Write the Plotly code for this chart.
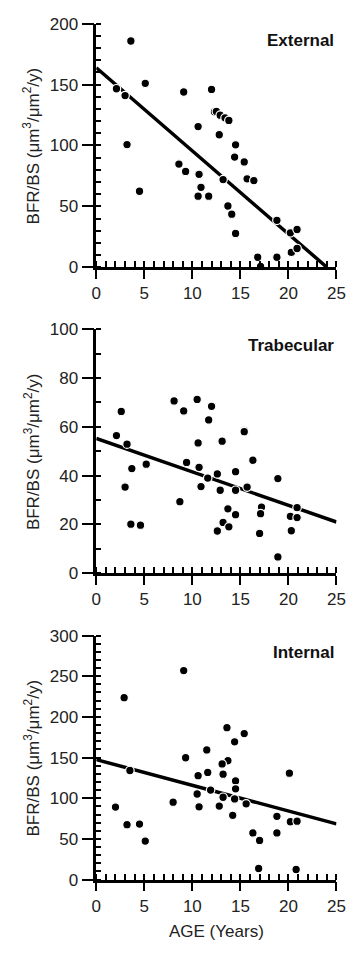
import plotly.graph_objects as go

# ---------------- data ----------------
ext_age = [3.6, 2.1, 3.0, 5.1, 9.1, 12.0, 12.3, 10.6, 3.2, 12.5, 12.9, 13.4, 13.8,
           12.8, 14.5, 14.4, 15.4, 13.2, 15.7, 16.4, 13.7, 14.1, 14.5, 18.8, 20.2,
           20.9, 18.8, 20.3, 20.9, 16.8, 17.1, 4.5, 8.6, 9.3, 10.7, 10.9, 10.6, 11.7]
ext_bfr = [185.8, 146.6, 141, 151, 143.9, 146, 127.6, 115.5, 100.7, 128, 124.9, 122.7, 120.6,
           108.8, 100.5, 90.5, 86.5, 72, 72.6, 71.2, 50.3, 43.6, 27.8, 38.5, 28.3,
           31, 8.2, 12.2, 15.4, 8.2, 0.7, 62.4, 84.7, 78.7, 76.3, 65.6, 58.4, 58.4]
ext_fit_age = [0, 24]
ext_fit_bfr = [163.8, 0]

tra_age = [2.6, 8.1, 9.1, 10.5, 12.0, 11.7, 15.4, 2.1, 3.2, 3.7, 3.0, 5.2, 3.6, 4.6,
           8.7, 9.4, 10.6, 10.7, 10.9, 11.6, 12.6, 12.9, 13.1, 14.5, 14.5, 15.4, 15.7,
           16.3, 13.7, 13.2, 12.6, 13.8, 14.5, 17.2, 17.1, 17.0, 18.9, 18.9, 20.9,
           20.2, 20.9, 20.3]
tra_bfr = [66.3, 70.6, 66.5, 71.2, 68.4, 62.8, 58.5, 56.4, 52.9, 42.9, 35.3, 44.7, 20.1, 19.7,
           29.3, 45.4, 53.4, 43.4, 35.5, 39, 40.7, 34, 54.1, 41.6, 34, 58, 35.3,
           46.3, 26.4, 20.8, 17.3, 19, 24, 27.1, 24.4, 16.3, 38.8, 6.7, 26.9,
           23.3, 22.8, 17.4]
tra_fit_age = [0, 25]
tra_fit_bfr = [55.2, 21]

int_age = [9.1, 2.9, 13.6, 15.4, 14.4, 11.5, 9.3, 13.7, 13.1, 3.5, 11.6, 13.2, 10.6,
           20.1, 14.5, 14.5, 11.9, 10.5, 13.2, 14.4, 15.6, 8.0, 2.0, 10.7, 12.8, 14.2,
           18.8, 20.2, 20.9, 3.2, 4.5, 5.1, 16.3, 17.0, 18.8, 16.9, 20.8]
int_bfr = [257, 223.6, 186.7, 179.5, 169.4, 159.4, 149.8, 146.1, 142.2, 134.1, 131.7, 129.6, 127.7,
           130.8, 121.2, 111.6, 110, 105.2, 101.2, 99.2, 93.1, 95.2, 89.2, 89.5, 90.4, 79,
           77.8, 71.1, 71.8, 67.5, 68.2, 47.3, 57.3, 48.2, 57.3, 13.6, 12.4]
int_fit_age = [0, 25]
int_fit_bfr = [147.5, 68.5]

panel_names = ["External", "Trabecular", "Internal"]
y_ranges = [[0, 200], [0, 100], [0, 300]]
y_major = [50, 20, 50]
y_minor = [10, 10, 10]
x_range = [0, 25]
x_tickvals = [0, 5, 10, 15, 20, 25]
y_title = "BFR/BS (μm<sup>3</sup>/μm<sup>2</sup>/y)"
x_title = "AGE (Years)"

# ---------------- layout geometry ----------------
W, H = 357, 953
FONT = "Liberation Sans, Arial, Helvetica, sans-serif"
x_dom = [95 / W, 345 / W]
y_pix = [(15, 263.5), (326.7, 575.7), (639.3, 888.3)]
y_doms = [[1 - b / H, 1 - t / H] for (t, b) in y_pix]

fig = go.Figure()
datasets = [(ext_age, ext_bfr, ext_fit_age, ext_fit_bfr),
            (tra_age, tra_bfr, tra_fit_age, tra_fit_bfr),
            (int_age, int_bfr, int_fit_age, int_fit_bfr)]

layout = dict(
    autosize=True, margin=dict(l=0, r=0, t=0, b=0),
    paper_bgcolor="white", plot_bgcolor="white", showlegend=False,
    font=dict(family=FONT, size=17, color="#111"),
)
annotations = []

for i, (ax_, ay_, fx, fy) in enumerate(datasets):
    n = i + 1
    xa = "x" if n == 1 else f"x{n}"
    ya = "y" if n == 1 else f"y{n}"
    fig.add_trace(go.Scatter(x=fx, y=fy, mode="lines", xaxis=xa, yaxis=ya,
                             line=dict(color="black", width=3.5), cliponaxis=False,
                             hoverinfo="skip"))
    fig.add_trace(go.Scatter(x=ax_, y=ay_, mode="markers", xaxis=xa, yaxis=ya,
                             marker=dict(color="black", size=8.5,
                                         line=dict(color="white", width=1.2)),
                             cliponaxis=False))
    common_line = dict(showline=True, linecolor="black", linewidth=2.5,
                       showgrid=False, zeroline=False, mirror=False)
    layout[f"xaxis{'' if n == 1 else n}"] = dict(
        domain=x_dom, anchor=ya, range=x_range, tickvals=x_tickvals,
        ticks="outside", ticklen=9, tickwidth=2, tickcolor="black",
        minor=dict(dtick=1, ticks="inside", ticklen=6, tickwidth=1.6, tickcolor="black"),
        tickfont=dict(size=17, color="#222"),
        **common_line,
    )
    layout[f"yaxis{'' if n == 1 else n}"] = dict(
        domain=y_doms[i], anchor=xa, range=y_ranges[i],
        tick0=0, dtick=y_major[i],
        ticks="outside", ticklen=12, tickwidth=2, tickcolor="black",
        minor=dict(dtick=y_minor[i], ticks="inside", ticklen=5, tickwidth=1.6, tickcolor="black"),
        tickfont=dict(size=17, color="#222"),
        **common_line,
    )
    # overlay axes: inner part of the crossing major ticks
    ox, oy = f"x{n + 3}", f"y{n + 3}"
    layout[f"xaxis{n + 3}"] = dict(
        overlaying=xa, anchor=oy, range=x_range, tickvals=x_tickvals,
        ticks="inside", ticklen=6, tickwidth=2, tickcolor="black",
        showticklabels=False, showline=False, showgrid=False, zeroline=False)
    layout[f"yaxis{n + 3}"] = dict(
        overlaying=ya, anchor=ox, range=y_ranges[i], tick0=0, dtick=y_major[i],
        ticks="inside", ticklen=5, tickwidth=2, tickcolor="black",
        showticklabels=False, showline=False, showgrid=False, zeroline=False)
    fig.add_trace(go.Scatter(x=[None], y=[None], xaxis=ox, yaxis=oy,
                             mode="markers", hoverinfo="skip"))

    top, bot = y_pix[i]
    annotations.append(dict(
        text=y_title, textangle=-90, xref="paper", yref="paper",
        x=28 / W, y=1 - (top + bot) / 2 / H, xanchor="center", yanchor="middle",
        showarrow=False, font=dict(size=17, color="#222")))
    annotations.append(dict(
        text=f"<b>{panel_names[i]}</b>", xref="paper", yref="paper",
        x=344 / W, y=1 - (top + 17) / H, xanchor="right", yanchor="middle",
        showarrow=False, font=dict(size=17, color="#111")))

annotations.append(dict(
    text=x_title, xref="paper", yref="paper", x=220 / W, y=1 - 941 / H,
    xanchor="center", yanchor="middle", showarrow=False,
    font=dict(size=17, color="#222")))

layout["annotations"] = annotations
fig.update_layout(**layout)

page_js = (
    "document.documentElement.style.margin='0';"
    "document.documentElement.style.padding='0';"
    "document.documentElement.style.overflow='hidden';"
    "document.body.style.margin='0';"
    "document.body.style.padding='0';"
    "document.body.style.overflow='hidden';"
    "var gd=document.getElementById('{plot_id}');"
    "gd.style.position='fixed';gd.style.left='0px';gd.style.top='0px';"
    "gd.style.width=window.innerWidth+'px';gd.style.height=window.innerHeight+'px';"
    "Plotly.Plots.resize(gd);"
)
fig.write_html("out.html", config={"displayModeBar": False, "responsive": True},
               default_width="100vw", default_height="100vh", post_script=page_js)
